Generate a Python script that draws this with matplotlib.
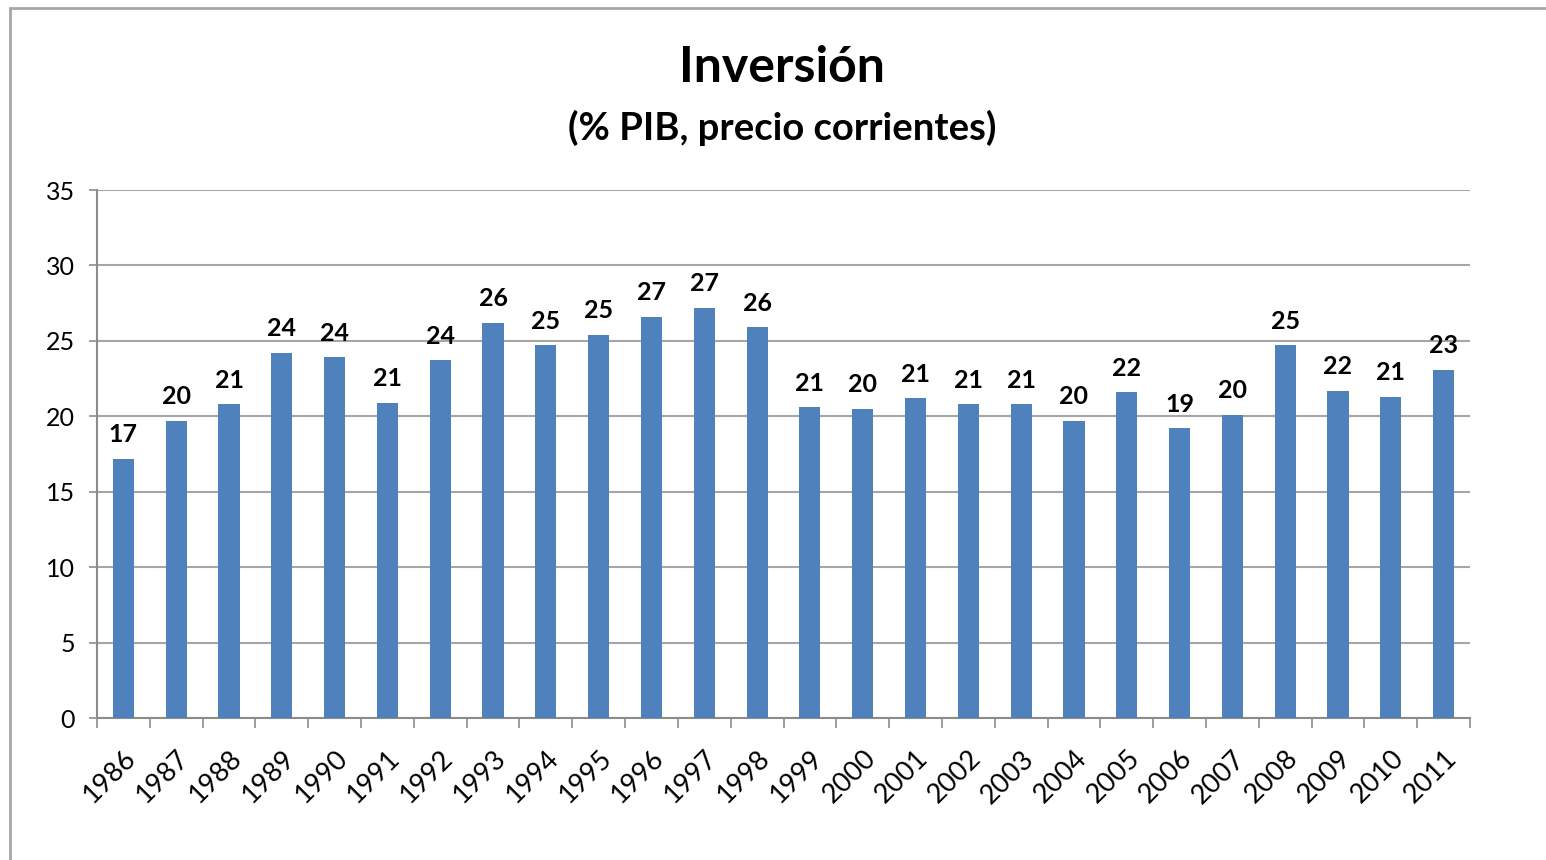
import matplotlib.pyplot as plt
from matplotlib.patches import Rectangle
import numpy as np

years = [str(y) for y in range(1986, 2012)]
inversion = [17.2, 19.7, 20.8, 24.2, 23.9, 20.9, 23.7, 26.2, 24.7, 25.4, 26.6, 27.2, 25.9,
             20.6, 20.5, 21.2, 20.8, 20.8, 19.7, 21.6, 19.2, 20.1, 24.7, 21.7, 21.3, 23.1]

title = "Inversión"
subtitle = "(% PIB, precio corrientes)"

plt.rcParams['font.family'] = ['Lato', 'DejaVu Sans']

fig = plt.figure(figsize=(15.46, 8.6), dpi=100)
ax = fig.add_axes([97 / 1546, 1 - 718 / 860, (1470 - 97) / 1546, (718 - 190) / 860])

# marco exterior del grafico
fig.patches.append(Rectangle((10 / 1546, -0.1), 2, 1 - 8 / 860 + 0.1, transform=fig.transFigure,
                             fill=False, edgecolor='#a6a6a6', linewidth=2))

x = np.arange(len(years))
bars = ax.bar(x, inversion, width=0.4, color='#4f81bd', zorder=3)

for xi, v in zip(x, inversion):
    ax.annotate(f"{v:.0f}", (xi, v), xytext=(0, 9), textcoords='offset points',
                ha='center', va='bottom', fontsize=18, fontweight='bold', color='black')

ax.set_xlim(-0.5, len(years) - 0.5)
ax.set_ylim(0, 35)
ax.set_yticks(range(0, 36, 5))
ax.yaxis.grid(True, color='#a6a6a6', linewidth=1.5, zorder=0)
ax.tick_params(axis='y', labelsize=18, length=6, width=1.2, color='#8c8c8c', pad=10)

# marcas del eje x entre categorias
ax.set_xticks(np.arange(-0.5, len(years), 1), minor=False)
ax.set_xticklabels([])
ax.set_xticks(x, minor=True)
ax.set_xticklabels(years, minor=True, rotation=45, ha='right', rotation_mode='anchor', fontsize=19.5)
ax.tick_params(axis='x', which='major', length=7, width=1.2, color='#8c8c8c', direction='out')
ax.tick_params(axis='x', which='minor', length=0, pad=20)

for s in ['top', 'right']:
    ax.spines[s].set_visible(False)
for s in ['left', 'bottom']:
    ax.spines[s].set_color('#8c8c8c')
    ax.spines[s].set_linewidth(1.5)

fig.text(0.506, 1 - 68 / 860, title, ha='center', va='center', fontsize=36, fontweight='bold')
fig.text(0.506, 1 - 128 / 860, subtitle, ha='center', va='center', fontsize=27.5, fontweight='bold')

fig.savefig("out.png", dpi=100)
